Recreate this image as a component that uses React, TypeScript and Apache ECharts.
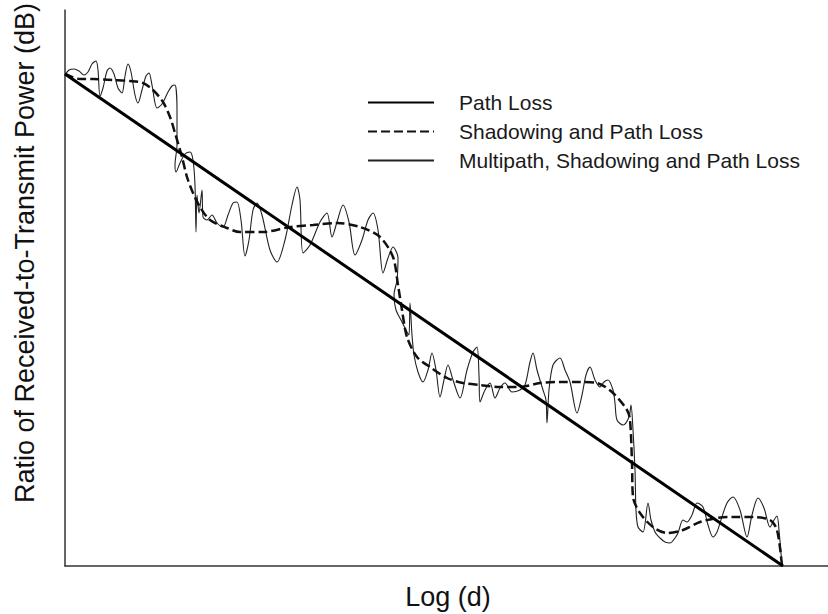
import React, { useEffect, useRef } from "react";
import * as echarts from "echarts";

// Log-distance (x) and received-to-transmit ratio (y) in arbitrary units
const pathLossX = [0, 718];
const pathLossY = [492, 0];

const shadowX = [0, 7, 15, 28, 48, 65, 78, 88, 98, 105, 110, 117, 122, 128, 135, 145, 162, 175, 198, 225, 248, 272, 295, 315, 328, 333, 337, 342, 352, 365, 382, 398, 415, 435, 455, 475, 495, 515, 532, 548, 562, 565, 567, 568, 575, 588, 602, 618, 635, 652, 668, 688, 705, 712, 717];
const shadowY = [492, 489, 487, 487, 486, 485, 483, 476, 464, 449, 433, 409, 389, 373, 359, 346, 338, 334, 334, 339, 341, 343, 339, 329, 309, 281, 256, 229, 209, 199, 188, 183, 181, 179, 179, 183, 184, 184, 183, 173, 156, 146, 103, 69, 53, 39, 33, 36, 44, 48, 49, 49, 46, 36, 0];

const multiX = [0, 4, 9, 14, 19, 23, 27, 31, 33, 35, 38, 42, 45, 49, 53, 57, 60, 63, 66, 70, 73, 77, 81, 84, 87, 92, 97, 103, 107, 110, 112, 112, 110, 111, 115, 120, 125, 128, 130, 131, 132, 134, 137, 138, 142, 147, 152, 158, 163, 168, 172, 176, 180, 184, 188, 192, 197, 205, 212, 220, 227, 232, 235, 238, 245, 255, 262, 267, 272, 278, 284, 290, 297, 303, 308, 313, 318, 323, 328, 333, 332, 329, 331, 336, 342, 344, 345, 347, 349, 353, 358, 363, 367, 371, 375, 379, 383, 388, 395, 402, 408, 412, 414, 415, 420, 425, 430, 435, 440, 447, 455, 460, 465, 468, 472, 478, 481, 482, 484, 488, 495, 500, 505, 512, 517, 521, 525, 530, 535, 539, 543, 548, 550, 552, 558, 564, 566, 568, 570, 571, 573, 578, 583, 586, 590, 595, 600, 605, 610, 613, 618, 622, 627, 632, 638, 643, 648, 652, 655, 662, 668, 675, 682, 687, 693, 699, 705, 709, 712, 714, 717];
const multiY = [491, 496, 497, 495, 491, 494, 502, 505, 496, 470, 478, 495, 498, 492, 478, 473, 490, 502, 494, 471, 463, 476, 490, 493, 481, 458, 462, 474, 480, 481, 456, 421, 401, 394, 403, 412, 414, 406, 381, 334, 371, 353, 376, 349, 346, 351, 343, 339, 351, 363, 364, 346, 310, 326, 356, 363, 351, 316, 304, 326, 361, 379, 366, 313, 321, 344, 353, 329, 344, 361, 344, 311, 326, 346, 353, 336, 293, 308, 319, 308, 286, 271, 256, 246, 234, 231, 263, 231, 211, 194, 184, 196, 213, 196, 169, 186, 201, 186, 168, 196, 214, 219, 191, 164, 176, 183, 168, 178, 183, 174, 176, 181, 204, 213, 196, 176, 166, 143, 176, 201, 208, 196, 184, 153, 171, 191, 199, 186, 179, 184, 186, 176, 163, 146, 141, 149, 161, 136, 96, 56, 39, 34, 63, 46, 34, 28, 24, 23, 28, 33, 46, 44, 51, 63, 59, 41, 29, 34, 43, 63, 69, 56, 29, 51, 68, 58, 39, 46, 50, 36, 0];

const seriesNames = ["Path Loss", "Shadowing and Path Loss", "Multipath, Shadowing and Path Loss"];
const xTitle = "Log (d)";
const yTitle = "Ratio of Received-to-Transmit Power (dB)";

const zip = (xs: number[], ys: number[]) => xs.map((x, i) => [x, ys[i]]);

export default function App() {
  const ref = useRef<HTMLDivElement>(null);
  useEffect(() => {
    document.body.style.margin = "0";
    const chart = echarts.init(ref.current!, null, { renderer: "svg" });
    const font = "'Liberation Sans', Arial, sans-serif";
    chart.setOption({
      animation: false,
      backgroundColor: "#ffffff",
      grid: { left: 65, right: 0, top: 10, bottom: 48 },
      xAxis: {
        type: "value",
        min: 0,
        max: 763,
        axisLine: { show: true, lineStyle: { color: "#333", width: 1.5 } },
        axisTick: { show: false },
        axisLabel: { show: false },
        splitLine: { show: false },
      },
      yAxis: {
        type: "value",
        min: 0,
        max: 556,
        axisLine: { show: true, lineStyle: { color: "#333", width: 1.5 } },
        axisTick: { show: false },
        axisLabel: { show: false },
        splitLine: { show: false },
      },
      legend: {
        orient: "vertical",
        left: 367,
        top: 92,
        padding: 0,
        itemWidth: 66,
        itemHeight: 10,
        itemGap: 8,
        itemStyle: { opacity: 0 },
        textStyle: {
          fontFamily: font,
          fontSize: 21,
          color: "#1a1a1a",
          padding: [0, 0, 0, 20],
        },
        data: seriesNames,
      },
      graphic: [
        {
          type: "text",
          x: 448,
          y: 597,
          style: {
            text: xTitle,
            font: `27px ${font}`,
            fill: "#111",
            textAlign: "center",
            textVerticalAlign: "middle",
          },
        },
        {
          type: "text",
          x: 25,
          y: 253,
          rotation: Math.PI / 2,
          style: {
            text: yTitle,
            font: `27px ${font}`,
            fill: "#111",
            textAlign: "center",
            textVerticalAlign: "middle",
          },
        },
      ],
      series: [
        {
          name: seriesNames[0],
          type: "line",
          data: zip(pathLossX, pathLossY),
          symbol: "none",
          itemStyle: { color: "#000" },
          lineStyle: { color: "#000", width: 3 },
          z: 3,
        },
        {
          name: seriesNames[1],
          type: "line",
          data: zip(shadowX, shadowY),
          symbol: "none",
          smooth: 0.3,
          itemStyle: { color: "#111" },
          lineStyle: { color: "#111", width: 2.5, type: [9, 4] },
          z: 2,
        },
        {
          name: seriesNames[2],
          type: "line",
          data: zip(multiX, multiY),
          symbol: "none",
          smooth: 0.3,
          itemStyle: { color: "#222" },
          lineStyle: { color: "#222", width: 1.1 },
          z: 1,
        },
      ],
    });
    return () => chart.dispose();
  }, []);
  return (
    <div
      ref={ref}
      style={{ position: "absolute", left: 0, top: 0, width: 828, height: 614 }}
    />
  );
}
